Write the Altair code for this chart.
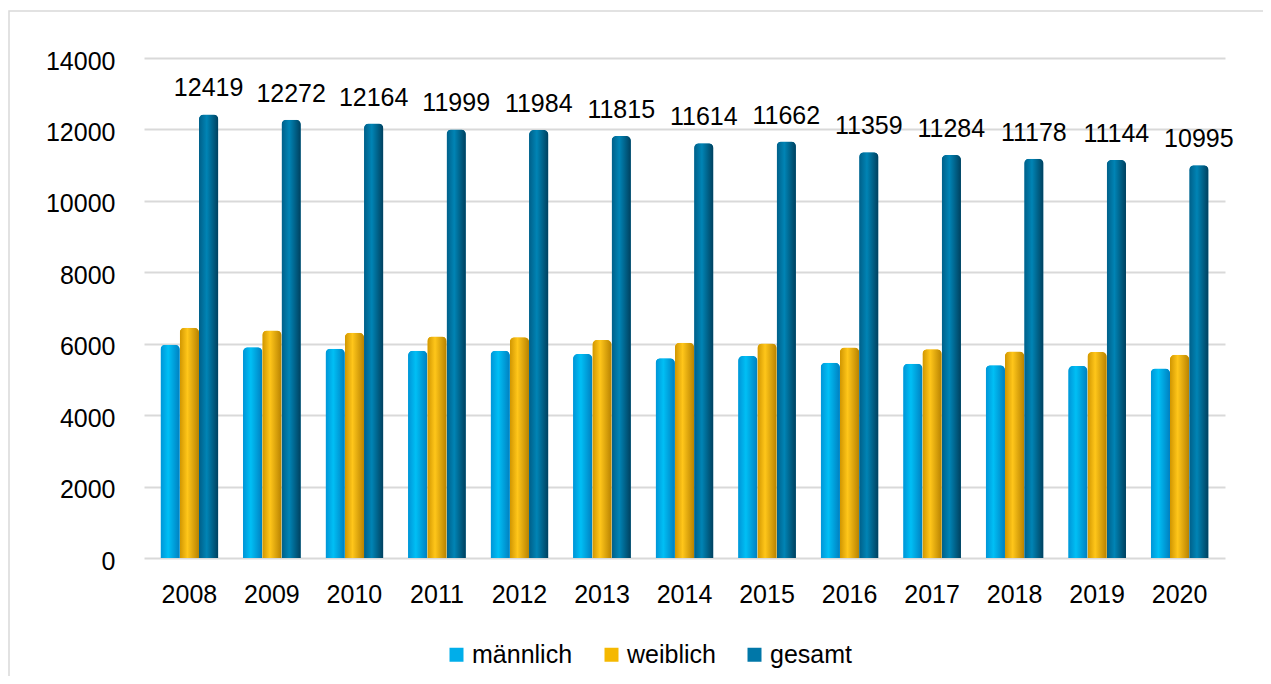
import altair as alt
import pandas as pd

years = ["2008", "2009", "2010", "2011", "2012", "2013", "2014",
         "2015", "2016", "2017", "2018", "2019", "2020"]
maennlich = [5970, 5900, 5857, 5800, 5800, 5710, 5590, 5655, 5465, 5437, 5394, 5377, 5303]
weiblich = [6449, 6372, 6307, 6199, 6184, 6105, 6024, 6007, 5894, 5847, 5784, 5767, 5692]
gesamt = [12419, 12272, 12164, 11999, 11984, 11815, 11614, 11662, 11359, 11284, 11178, 11144, 10995]
series = ["männlich", "weiblich", "gesamt"]
colors = ["#00aeea", "#f5b800", "#0077a8"]
y_ticks = [0, 2000, 4000, 6000, 8000, 10000, 12000, 14000]

rows = []
for i, yr in enumerate(years):
    rows.append({"Jahr": yr, "Serie": "männlich", "Wert": maennlich[i]})
    rows.append({"Jahr": yr, "Serie": "weiblich", "Wert": weiblich[i]})
    rows.append({"Jahr": yr, "Serie": "gesamt", "Wert": gesamt[i]})
df = pd.DataFrame(rows)

FONT = "Liberation Sans"
FS = 25

def grad(c1, c2, c3):
    return alt.LinearGradient(
        gradient="linear", x1=0, x2=1, y1=0, y2=0,
        stops=[alt.GradientStop(color=c1, offset=0),
               alt.GradientStop(color=c2, offset=0.4),
               alt.GradientStop(color=c3, offset=1)])

grads = {
    "männlich": grad("#0094d6", "#00bff5", "#007fc0"),
    "weiblich": grad("#d09500", "#ffc61a", "#b88200"),
    "gesamt": grad("#005f88", "#0084b5", "#00405e"),
}

x_enc = alt.X("Jahr:N", sort=years,
              scale=alt.Scale(paddingInner=0.3, paddingOuter=0.2),
              axis=alt.Axis(title=None, labelAngle=0, domain=False, ticks=False,
                            labelFontSize=FS, labelFont=FONT, labelColor="#000000",
                            labelPadding=24, grid=False))
xo_enc = alt.XOffset("Serie:N", sort=series, scale=alt.Scale(domain=series, paddingInner=0.0))
y_enc = alt.Y("Wert:Q", scale=alt.Scale(domain=[0, 14000], nice=False),
              axis=alt.Axis(title=None, values=y_ticks, format="d", domain=False, ticks=False,
                            labelFontSize=FS, labelFont=FONT, labelColor="#000000",
                            labelPadding=29, labelOffset=3,
                            gridColor="#d9d9d9", gridWidth=2))

base = alt.Chart(df)

legend_layer = base.mark_bar(cornerRadiusTopLeft=5, cornerRadiusTopRight=5).encode(
    x=x_enc, xOffset=xo_enc, y=y_enc,
    color=alt.Color("Serie:N", sort=series,
                    scale=alt.Scale(domain=series, range=colors),
                    legend=alt.Legend(title=None, orient="none", direction="horizontal",
                                      legendX=300, legendY=584, symbolType="square",
                                      symbolSize=196, symbolStrokeWidth=0,
                                      labelFontSize=FS, labelFont=FONT, labelColor="#000000",
                                      columnPadding=26, symbolOffset=0, labelOffset=3))
)

grad_layers = []
for s in series:
    grad_layers.append(
        base.transform_filter(alt.datum.Serie == s).mark_bar(
            color=grads[s], cornerRadiusTopLeft=5, cornerRadiusTopRight=5
        ).encode(x=x_enc, xOffset=xo_enc, y=y_enc)
    )

labels = base.transform_filter(alt.datum.Serie == "gesamt").mark_text(
    dy=-18, fontSize=FS, font=FONT, color="#000000", baseline="alphabetic"
).encode(x=x_enc, xOffset=xo_enc, y=y_enc, text=alt.Text("Wert:Q", format="d"))

border = alt.Chart(pd.DataFrame({"a": [0]})).mark_rect(
    fillOpacity=0, stroke="#d9d9d9", strokeWidth=1.5
).encode(x=alt.value(-135), x2=alt.value(1300), y=alt.value(-47), y2=alt.value(700))

chart = alt.layer(border, legend_layer, *grad_layers, labels).properties(
    width=1081, height=500,
    autosize=alt.AutoSizeParams(type="none"),
    padding={"left": 136, "top": 50, "right": 38, "bottom": 118},
    background="#ffffff",
).configure_view(strokeWidth=0)

chart.save("out.html", embed_options={"renderer": "svg", "actions": False})
